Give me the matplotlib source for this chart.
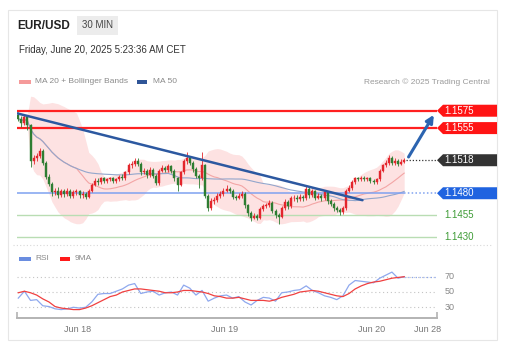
import matplotlib
matplotlib.use("Agg")
import matplotlib.pyplot as plt
from matplotlib.patches import Polygon, Rectangle
from matplotlib.transforms import blended_transform_factory
import numpy as np
import pandas as pd

plt.rcParams['font.family'] = ['Liberation Sans', 'DejaVu Sans']

# EUR/USD 30 min candles, Jun 17 14:00 -> Jun 20 05:00 (CET)
first_open = 1.1570
closes = [
    1.1566, 1.1561, 1.1568, 1.1558, 1.1517, 1.1520, 1.1523, 1.1529, 1.1515, 1.1499,
    1.1491, 1.1481, 1.1483, 1.1478, 1.1482, 1.1479, 1.1483, 1.1477, 1.1481, 1.1482,
    1.1478, 1.1479, 1.1476, 1.1483, 1.1490, 1.1494, 1.1493, 1.1497, 1.1494, 1.1496,
    1.1497, 1.1494, 1.1496, 1.1499, 1.1497, 1.1504, 1.1512, 1.1514, 1.1517, 1.1514,
    1.1504, 1.1506, 1.1501, 1.1507, 1.1500, 1.1492, 1.1506, 1.1509, 1.1507, 1.1511,
    1.1506, 1.1497, 1.1490, 1.1504, 1.1517, 1.1521, 1.1515, 1.1508, 1.1500, 1.1497,
    1.1512, 1.1477, 1.1463, 1.1471, 1.1472, 1.1477, 1.1479, 1.1483, 1.1485, 1.1483,
    1.1476, 1.1475, 1.1477, 1.1479, 1.1466, 1.1457, 1.1452, 1.1454, 1.1452, 1.1462,
    1.1465, 1.1466, 1.1469, 1.1460, 1.1455, 1.1453, 1.1463, 1.1470, 1.1465, 1.1474,
    1.1475, 1.1473, 1.1476, 1.1474, 1.1485, 1.1478, 1.1482, 1.1475, 1.1477, 1.1474,
    1.1481, 1.1471, 1.1468, 1.1463, 1.1461, 1.1458, 1.1463, 1.1483, 1.1486, 1.1493,
    1.1497, 1.1496, 1.1498, 1.1496, 1.1497, 1.1494, 1.1493, 1.1496, 1.1506, 1.1512,
    1.1515, 1.1521, 1.1515, 1.1517, 1.1514, 1.1516, 1.1518,
]
highs = [
    1.1573, 1.1569, 1.1571, 1.1570, 1.1560, 1.1524, 1.1526, 1.1532, 1.1531, 1.1517,
    1.1502, 1.1493, 1.1486, 1.1487, 1.1485, 1.1485, 1.1486, 1.1485, 1.1484, 1.1485,
    1.1484, 1.1482, 1.1481, 1.1485, 1.1492, 1.1497, 1.1497, 1.1499, 1.1499, 1.1498,
    1.1499, 1.1499, 1.1498, 1.1501, 1.1502, 1.1506, 1.1515, 1.1517, 1.1521, 1.1520,
    1.1516, 1.1509, 1.1508, 1.1510, 1.1509, 1.1502, 1.1508, 1.1512, 1.1511, 1.1514,
    1.1513, 1.1508, 1.1499, 1.1506, 1.1519, 1.1527, 1.1523, 1.1517, 1.1510, 1.1502,
    1.1528, 1.1514, 1.1479, 1.1474, 1.1476, 1.1480, 1.1482, 1.1486, 1.1489, 1.1487,
    1.1485, 1.1478, 1.1480, 1.1482, 1.1481, 1.1468, 1.1459, 1.1457, 1.1456, 1.1464,
    1.1468, 1.1469, 1.1472, 1.1471, 1.1462, 1.1457, 1.1465, 1.1473, 1.1472, 1.1477,
    1.1478, 1.1478, 1.1479, 1.1478, 1.1488, 1.1487, 1.1485, 1.1484, 1.1480, 1.1479,
    1.1484, 1.1483, 1.1473, 1.1470, 1.1465, 1.1463, 1.1465, 1.1485, 1.1489, 1.1495,
    1.1499, 1.1499, 1.1500, 1.1500, 1.1499, 1.1499, 1.1496, 1.1498, 1.1508, 1.1514,
    1.1518, 1.1524, 1.1523, 1.1520, 1.1519, 1.1519, 1.1520,
]
lows = [
    1.1563, 1.1556, 1.1558, 1.1553, 1.1510, 1.1514, 1.1517, 1.1520, 1.1512, 1.1496,
    1.1488, 1.1477, 1.1478, 1.1475, 1.1476, 1.1476, 1.1477, 1.1474, 1.1475, 1.1478,
    1.1475, 1.1475, 1.1473, 1.1474, 1.1481, 1.1488, 1.1490, 1.1491, 1.1492, 1.1492,
    1.1494, 1.1492, 1.1492, 1.1494, 1.1495, 1.1495, 1.1502, 1.1509, 1.1511, 1.1511,
    1.1501, 1.1502, 1.1498, 1.1499, 1.1497, 1.1489, 1.1490, 1.1504, 1.1504, 1.1505,
    1.1503, 1.1494, 1.1483, 1.1488, 1.1502, 1.1514, 1.1512, 1.1505, 1.1497, 1.1486,
    1.1495, 1.1474, 1.1460, 1.1461, 1.1468, 1.1470, 1.1475, 1.1477, 1.1481, 1.1480,
    1.1473, 1.1472, 1.1473, 1.1475, 1.1463, 1.1454, 1.1448, 1.1450, 1.1449, 1.1450,
    1.1460, 1.1463, 1.1464, 1.1457, 1.1451, 1.1445, 1.1451, 1.1461, 1.1462, 1.1463,
    1.1471, 1.1470, 1.1471, 1.1471, 1.1472, 1.1475, 1.1476, 1.1472, 1.1473, 1.1471,
    1.1472, 1.1468, 1.1465, 1.1460, 1.1458, 1.1455, 1.1456, 1.1461, 1.1481, 1.1484,
    1.1491, 1.1494, 1.1494, 1.1494, 1.1494, 1.1492, 1.1491, 1.1491, 1.1494, 1.1504,
    1.1510, 1.1513, 1.1512, 1.1512, 1.1511, 1.1512, 1.1515,
]

# RSI(14) and its 9 period average, read once per hour
rsi_values = [
    42, 51, 39, 40, 32, 31, 28, 27, 28, 30,
    29, 30, 37, 47, 48, 48, 51, 54, 59, 61,
    48, 50, 51, 46, 49, 50, 46, 59, 55, 46,
    52, 38, 42, 45, 46, 42, 44, 37, 33, 39,
    43, 42, 38, 49, 50, 52, 53, 58, 52, 49,
    45, 43, 40, 45, 59, 65, 64, 63, 62, 68,
    72, 76, 68, 70,
]
rsi_ma9 = [
    49, 51, 49, 46, 41, 37, 31, 29, 28, 27,
    27, 29, 32, 36, 40, 44, 46, 50, 52, 54,
    54, 53, 52, 51, 49, 49, 50, 52, 52, 51,
    50, 48, 45, 44, 42, 42, 43, 41, 39, 39,
    39, 38, 40, 43, 45, 47, 50, 51, 52, 51,
    49, 47, 45, 44, 48, 54, 58, 61, 63, 64,
    66, 68, 69, 70,
]

# analyst levels and drawings
resistance_levels = [1.1575, 1.1555]
pivot_level = 1.1480
support_levels = [1.1455, 1.1430]
last_price = 1.1518
trend_days = [0.585, 2.935]
trend_prices = [1.1572, 1.1472]
target_day = 3.43
target_price = 1.1573

tick_days = [1, 2, 3, 3.381]
tick_labels = ['Jun 18', 'Jun 19', 'Jun 20', 'Jun 28']

# time axis: days since Jun 17 00:00, candle centres
days = 14.25 / 24 + np.arange(len(closes)) / 48
opens = [first_open] + closes[:-1]
x_min, x_max = 0.585, 3.442

s = pd.Series(closes)
ma20 = s.rolling(20, min_periods=1).mean()
sd20 = s.rolling(20, min_periods=1).std(ddof=0).fillna(0)
ma50 = s.rolling(50, min_periods=1).mean()

W, H = 513, 357
fig = plt.figure(figsize=(W / 100, H / 100), dpi=100)

# background / card layer in pixel coords
bg = fig.add_axes([0, 0, 1, 1], zorder=0)
bg.set_xlim(0, W)
bg.set_ylim(H, 0)
bg.axis('off')
bg.add_patch(Rectangle((8, 10), 489, 330, facecolor='white', edgecolor='#e6e6e6', lw=0.8))
bg.text(17, 26, 'EUR/USD', fontsize=8.5, fontweight='bold', color='#222222', va='center')
bg.add_patch(Rectangle((77, 16), 41, 19, facecolor='#ececec', edgecolor='none'))
bg.text(97.5, 25.5, '30 MIN', fontsize=7, color='#444444', ha='center', va='center')
bg.text(19, 50, 'Friday, June 20, 2025 5:23:36 AM CET', fontsize=7, color='#333333', va='center')
bg.add_patch(Rectangle((19, 80), 12, 3.5, facecolor='#f59a9a', edgecolor='none'))
bg.text(35, 81.8, 'MA 20 + Bollinger Bands', fontsize=6, color='#8a8a8a', va='center')
bg.add_patch(Rectangle((137, 80), 10, 3.5, facecolor='#2f5597', edgecolor='none'))
bg.text(153, 81.8, 'MA 50', fontsize=6, color='#8a8a8a', va='center')
bg.text(490, 81.8, 'Research \u00a9 2025 Trading Central', fontsize=6, color='#9a9a9a',
        ha='right', va='center')
bg.plot([13, 493], [245, 245], color='#d8d8d8', lw=0.8, ls=(0, (1, 2)))
bg.add_patch(Rectangle((19, 257), 12, 3.5, facecolor='#6a8de0', edgecolor='none'))
bg.text(35, 258.8, 'RSI', fontsize=6, color='#8a8a8a', va='center')
bg.add_patch(Rectangle((60, 257), 10, 3.5, facecolor='#ff1a1a', edgecolor='none'))
bg.text(75, 258.8, '9MA', fontsize=6, color='#8a8a8a', va='center')

# price panel
ax = fig.add_axes([17 / W, 1 - 245 / H, 420 / W, 150 / H], zorder=2)
ax.set_facecolor('none')
ax.set_xlim(x_min, x_max)
ax.set_ylim(1.14204, 1.15931)
for sp in ax.spines.values():
    sp.set_visible(False)
ax.set_xticks([])
ax.set_yticks([])

ax.fill_between(days, ma20 - 2 * sd20, ma20 + 2 * sd20, color='#fde2e2', lw=0, zorder=1)
ax.plot(days, ma20, color='#f3a5a5', lw=0.8, zorder=2)
ax.plot(days, ma50, color='#93a6cc', lw=0.8, zorder=2)

for lvl in resistance_levels:
    ax.axhline(lvl, color='#ff2020', lw=1.6, zorder=3)
for lvl in support_levels:
    ax.axhline(lvl, color='#b9ddb3', lw=1.0, zorder=3)
ax.hlines(pivot_level, x_min, days[-1], color='#7fa2f0', lw=1.1, zorder=3)
ax.hlines(pivot_level, days[-1], x_max, color='#7fa2f0', lw=1.1, ls=(0, (1, 1.5)), zorder=3)
ax.hlines(last_price, days[-1] + 0.01, x_max, color='#333333', lw=0.9, ls=(0, (1, 1.5)), zorder=3)

# candles: red = up, green = down
up_col, dn_col = '#e3262c', '#2e7d32'
cols = [up_col if c >= o else dn_col for o, c in zip(opens, closes)]
ax.vlines(days, lows, highs, colors=cols, lw=0.6, zorder=4)
ax.bar(days, np.array(closes) - np.array(opens), bottom=opens, width=0.0135,
       color=cols, edgecolor=cols, lw=0.3, zorder=5)

ax.plot(trend_days, trend_prices, color='#2c58a0', lw=1.8, zorder=6, solid_capstyle='round')
ax.annotate('', xy=(target_day, target_price), xytext=(days[-1] + 0.02, last_price + 0.0001),
            arrowprops=dict(arrowstyle='-|>', color='#2c64b0', lw=2.2, mutation_scale=11),
            zorder=7, annotation_clip=False)

# price tags
trans = blended_transform_factory(ax.transAxes, ax.transData)


def price_tag(price, color):
    h = 0.00069
    x0, notch, x1 = 1.0, 1.0143, 1.1429
    poly = Polygon([(x0, price), (notch, price + h), (x1, price + h), (x1, price - h),
                    (notch, price - h)], closed=True, transform=trans, facecolor=color,
                   edgecolor='none', clip_on=False, zorder=8)
    ax.add_patch(poly)
    ax.text(1.018, price, f'{price:.4f}', transform=trans, color='white', fontsize=7,
            va='center', ha='left', clip_on=False, zorder=9)


for lvl in resistance_levels:
    price_tag(lvl, '#ff1414')
price_tag(last_price, '#333333')
price_tag(pivot_level, '#1f63e0')
for lvl in support_levels:
    ax.text(1.018, lvl, f'{lvl:.4f}', transform=trans, color='#3d9b35', fontsize=7,
            va='center', ha='left', clip_on=False)

# RSI panel
ax2 = fig.add_axes([17 / W, 1 - 317.7 / H, 420 / W, 55.7 / H], zorder=2)
ax2.set_facecolor('none')
ax2.set_xlim(x_min, x_max)
ax2.set_ylim(16.4, 89.2)
for k in ['top', 'left', 'right']:
    ax2.spines[k].set_visible(False)
ax2.spines['bottom'].set_color('#b3b3b3')
ax2.spines['bottom'].set_linewidth(1.4)
for g in [70, 50, 30]:
    ax2.axhline(g, color='#c4c4c4', lw=0.8, ls=(0, (1, 2.5)), zorder=1)
    ax2.text(1.019, g, str(g), transform=blended_transform_factory(ax2.transAxes, ax2.transData),
             fontsize=6.5, color='#888888', va='center', ha='left')
rsi_days = days[::2]
ax2.plot(rsi_days, rsi_values, color='#8ea8ee', lw=0.9, zorder=2)
ax2.plot(rsi_days, rsi_ma9, color='#f04040', lw=0.9, zorder=3)
ax2.hlines(rsi_values[-1], rsi_days[-1], x_max, color='#8ea8ee', lw=0.9, ls=(0, (1, 2)))
ax2.set_yticks([])
ax2.set_xticks(tick_days)
ax2.set_xticklabels(tick_labels)
ax2.tick_params(axis='x', which='major', length=0, pad=5, labelsize=6.5, labelcolor='#777777')
ax2.set_xticks([x_min + 0.002, x_max - 0.002], minor=True)
ax2.tick_params(axis='x', which='minor', direction='in', length=4, width=1.2, color='#b3b3b3')

fig.savefig('out.png', dpi=100, facecolor='white')
